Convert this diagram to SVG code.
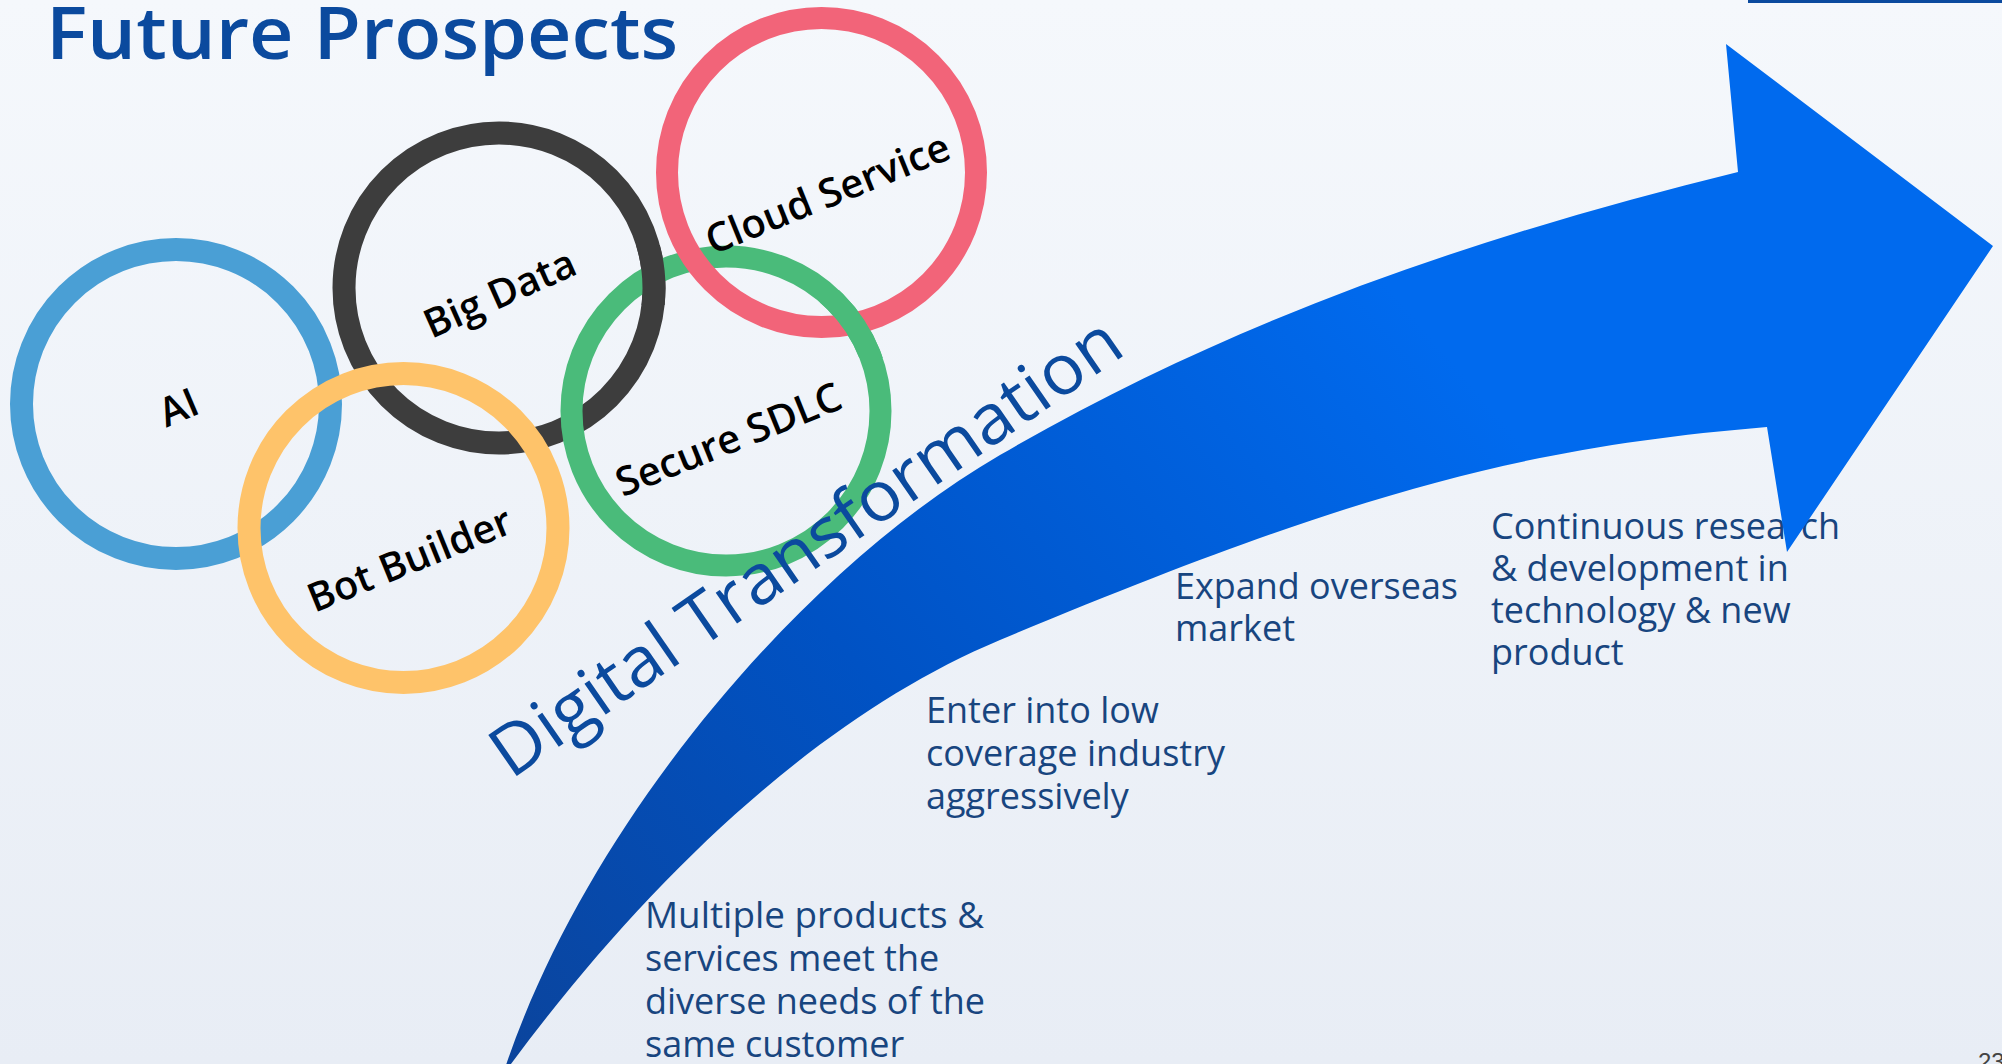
<svg xmlns="http://www.w3.org/2000/svg" width="2002" height="1064" viewBox="0 0 2002 1064">
  <defs>
    <linearGradient id="bg" x1="0" y1="0" x2="0" y2="1">
      <stop offset="0" stop-color="#f5f8fc"/>
      <stop offset="1" stop-color="#e8edf5"/>
    </linearGradient>
    <linearGradient id="arrowGrad" gradientUnits="userSpaceOnUse" x1="500" y1="1064" x2="1400" y2="300">
      <stop offset="0" stop-color="#0b449c"/>
      <stop offset="0.45" stop-color="#0052c4"/>
      <stop offset="1" stop-color="#006aee"/>
    </linearGradient>
    <clipPath id="clipBlackTop"><rect x="623" y="245" width="60" height="60"/></clipPath>
    <clipPath id="clipGreenRight"><rect x="820" y="290" width="68" height="68"/></clipPath>
  </defs>
  <style>
    .ring { fill: none; }
    .lbl { font-family: "Open Sans", "DejaVu Sans", sans-serif; font-weight: 600; font-size: 40px; fill: #000; text-anchor: middle; dominant-baseline: central; }
    .body { font-family: "Open Sans", "DejaVu Sans", sans-serif; font-size: 36px; fill: #18457f; }
  </style>

  <rect x="0" y="0" width="2002" height="1064" fill="url(#bg)"/>
  <rect x="1748" y="0" width="254" height="3" fill="#0b4a9e"/>

  <g id="title">
    <text x="46" y="59" font-family="Open Sans, DejaVu Sans, sans-serif" font-weight="600" font-size="72" fill="#0b4a9e" textLength="632" lengthAdjust="spacingAndGlyphs">Future Prospects</text>
  </g>

  <g id="text-blocks">
    <g id="step1">
      <text class="body" x="645" y="928" textLength="339" lengthAdjust="spacingAndGlyphs">Multiple products &amp;</text>
      <text class="body" x="645" y="971">services meet the</text>
      <text class="body" x="645" y="1014">diverse needs of the</text>
      <text class="body" x="645" y="1057">same customer</text>
    </g>
    <g id="step2">
      <text class="body" x="926" y="723">Enter into low</text>
      <text class="body" x="926" y="766">coverage industry</text>
      <text class="body" x="926" y="809">aggressively</text>
    </g>
    <g id="step3">
      <text class="body" x="1175" y="599" textLength="283" lengthAdjust="spacingAndGlyphs">Expand overseas</text>
      <text class="body" x="1175" y="641">market</text>
    </g>
    <g id="step4">
      <text class="body" x="1491" y="539">Continuous research</text>
      <text class="body" x="1491" y="581">&amp; development in</text>
      <text class="body" x="1491" y="623">technology &amp; new</text>
      <text class="body" x="1491" y="665">product</text>
    </g>
  </g>

  <g id="connectors">
    <path id="growth-arrow" fill="url(#arrowGrad)" d="M 1738 172 C 1492 233 1246 312 1000 455 C 800 571 587 824 505 1068 L 508 1068 C 648 878 820 715 1000 640 C 1350 494 1517 448 1767 427 L 1787 552 L 1993 246 L 1726 44 Z"/>
  </g>

  <g id="rings">
    <g id="ring-ai"><circle class="ring" cx="176" cy="404" r="154.5" stroke="#4a9fd5" stroke-width="23"/></g>
    <g id="ring-bigdata"><circle class="ring" cx="499" cy="288" r="155" stroke="#3d3d3d" stroke-width="23"/></g>
    <g id="ring-sdlc"><circle class="ring" cx="726" cy="411" r="154.5" stroke="#4abb7a" stroke-width="22"/></g>
    <g id="ring-cloud"><circle class="ring" cx="821.5" cy="172.5" r="154.5" stroke="#f26479" stroke-width="22"/></g>
    <g id="ring-bot"><circle class="ring" cx="403.5" cy="528" r="154.5" stroke="#fec36a" stroke-width="23"/></g>
    <g id="ring-overlaps">
      <circle class="ring" cx="499" cy="288" r="155" stroke="#3d3d3d" stroke-width="23" clip-path="url(#clipBlackTop)"/>
      <circle class="ring" cx="726" cy="411" r="154.5" stroke="#4abb7a" stroke-width="22" clip-path="url(#clipGreenRight)"/>
    </g>
  </g>

  <g id="labels">
    <text class="lbl" x="178" y="406" transform="rotate(-23 178 406)" font-size="42">AI</text>
    <text class="lbl" x="499" y="292" transform="rotate(-24 499 292)" font-size="44">Big Data</text>
    <text class="lbl" x="827" y="192" transform="rotate(-22 827 192)">Cloud Service</text>
    <text class="lbl" x="728" y="438" transform="rotate(-22 728 438)">Secure SDLC</text>
    <text class="lbl" x="409" y="558" transform="rotate(-22 409 558)">Bot Builder</text>
  </g>

  <g id="digital-transformation">
    <text x="511" y="780" transform="rotate(-34.7 511 780)" font-family="Open Sans, DejaVu Sans, sans-serif" font-size="70" fill="#0b4a9e" textLength="750" lengthAdjust="spacingAndGlyphs">Digital Transformation</text>
  </g>

  <g id="page-number">
    <text x="1978" y="1070" font-family="Liberation Sans, Arial, sans-serif" font-size="24" fill="#444">23</text>
  </g>
</svg>
